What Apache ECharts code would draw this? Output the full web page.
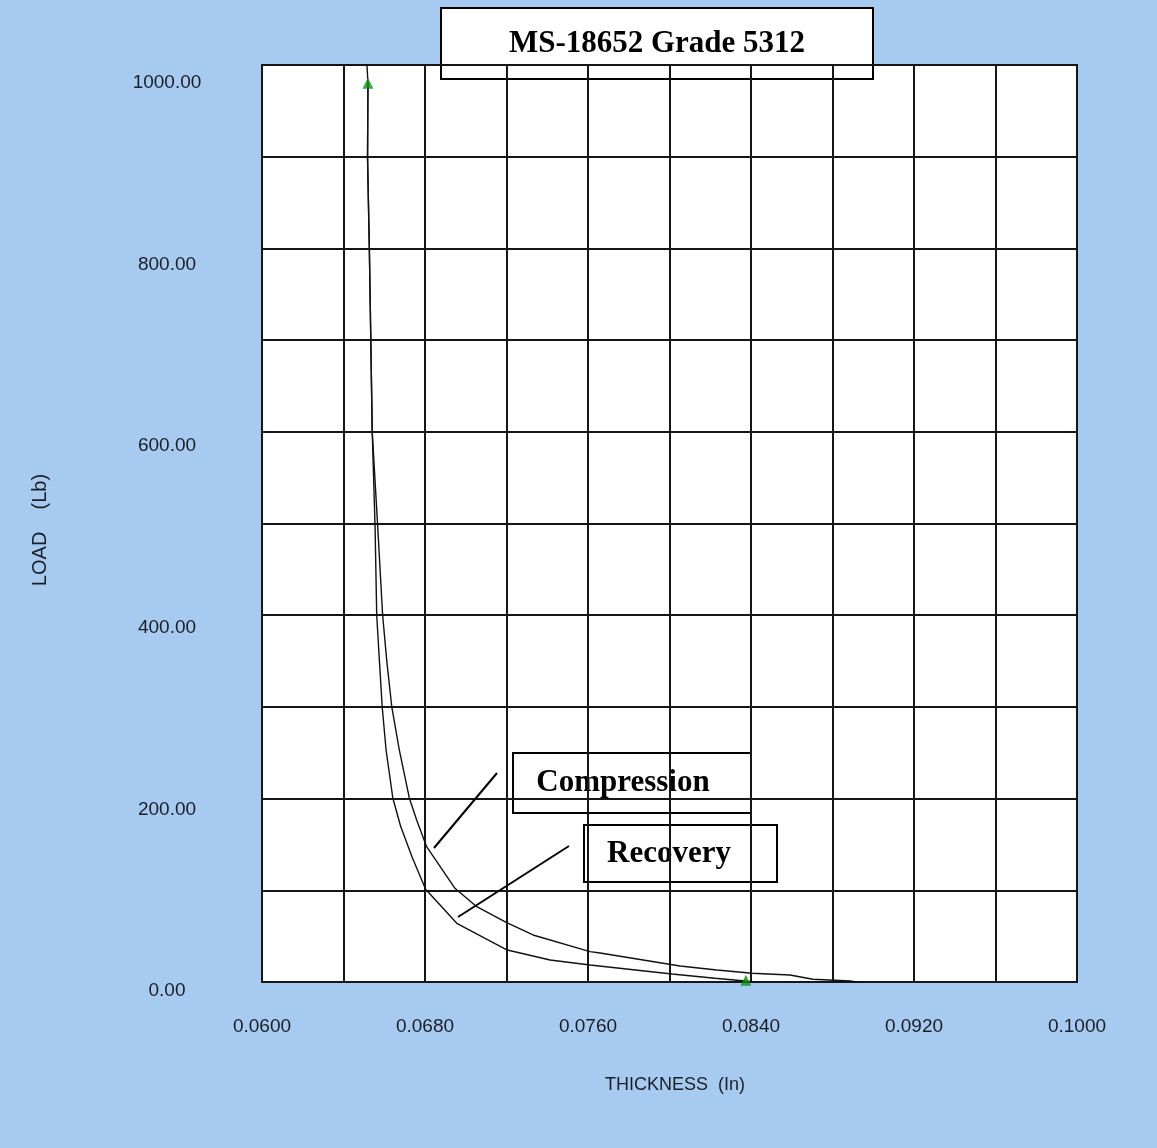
<!DOCTYPE html>
<html>
<head>
<meta charset="utf-8">
<title>MS-18652 Grade 5312</title>
<script src="https://cdn.jsdelivr.net/npm/echarts@6/dist/echarts.min.js"></script>
<style>
  html, body { margin: 0; padding: 0; background: #a6caf0; }
  #chart { width: 1157px; height: 1148px; }
</style>
</head>
<body>
<div id="chart"></div>
<script>
// Load vs. thickness test curves, [thickness (in), load (lb)]
const compression = [
  [0.08935, 9.4], [0.08886, 11.1], [0.08704, 13.0], [0.08591, 17.7],
  [0.08405, 19.6], [0.08232, 23.2], [0.08052, 27.6], [0.07659, 41.9],
  [0.07610, 43.4], [0.07330, 61.8], [0.07201, 75.3], [0.07054, 92.9],
  [0.06947, 113.2], [0.06808, 159.0], [0.06759, 188.4], [0.06723, 212.7],
  [0.06674, 265.5], [0.06637, 312.9], [0.06612, 364.6], [0.06592, 414.2],
  [0.06568, 511.0], [0.06541, 616.0], [0.06534, 717.0], [0.06527, 816.0],
  [0.06518, 918.0], [0.06520, 1000.0], [0.06514, 1025.0]
];

const recovery = [
  [0.06520, 1000.0], [0.06518, 918.0], [0.06527, 816.0], [0.06534, 717.0],
  [0.06541, 616.0], [0.06555, 511.0], [0.06563, 414.2], [0.06576, 364.6],
  [0.06590, 312.9], [0.06609, 265.5], [0.06642, 212.7], [0.06680, 181.8],
  [0.06736, 148.0], [0.06803, 112.1], [0.06956, 74.7],
  [0.07204, 45.2], [0.07414, 34.2], [0.07610, 28.7], [0.08012, 18.8],
  [0.08223, 14.1], [0.08371, 11.1], [0.08444, 8.9]
];

// Peak load and end-of-test markers
const endPoints = [[0.06520, 1000.0], [0.08375, 12.0]];

// Axis ranges and label steps
const thicknessRange = [0.06, 0.10];
const thicknessGridStep = 0.004;
const thicknessLabelStep = 0.008;
const loadLabelRange = [0, 1000];
const loadLabelStep = 200;
const loadPlotRange = [10, 1020];

const chartTitle = 'MS-18652 Grade 5312';
const xTitle = 'THICKNESS  (In)';
const yTitle = 'LOAD    (Lb)';
const compressionLabel = 'Compression';
const recoveryLabel = 'Recovery';

const chart = echarts.init(document.getElementById('chart'), null, { renderer: 'canvas' });

const ink = '#161616';
const tickFont = { fontFamily: 'Liberation Sans, Arial, sans-serif', fontSize: 19, color: '#1b1e24' };
const boxFont = 'bold 31px "Liberation Serif", "Times New Roman", serif';

function box(x, y, w, h, text, tx) {
  return {
    type: 'group', left: x, top: y, z: 100,
    children: [
      { type: 'rect', shape: { x: 0, y: 0, width: w, height: h },
        style: { fill: '#ffffff', stroke: '#000000', lineWidth: 2 } },
      { type: 'text', x: tx, y: h / 2,
        style: { text: text, font: boxFont, fill: '#000000',
                 textAlign: 'center', textVerticalAlign: 'middle' } }
    ]
  };
}

const option = {
  backgroundColor: '#a6caf0',
  animation: false,
  grid: [
    { left: 262, top: 65, width: 815, height: 917, show: true,
      backgroundColor: '#ffffff', borderColor: ink, borderWidth: 2 },
    { left: 262, top: 83, width: 815, height: 908, show: false }
  ],
  xAxis: [
    {
      type: 'value', gridIndex: 0,
      min: thicknessRange[0], max: thicknessRange[1], interval: thicknessGridStep,
      axisLine: { show: true, lineStyle: { color: ink, width: 2 } },
      axisTick: { show: false },
      splitLine: { show: true, lineStyle: { color: ink, width: 2 } },
      axisLabel: {
        margin: 35, ...tickFont,
        showMinLabel: true, showMaxLabel: true,
        formatter: function (v) {
          const k = Math.round((v - thicknessRange[0]) / thicknessGridStep);
          const every = Math.round(thicknessLabelStep / thicknessGridStep);
          return k % every === 0 ? v.toFixed(4) : '';
        }
      }
    },
    {
      type: 'value', gridIndex: 1, show: false,
      min: thicknessRange[0], max: thicknessRange[1]
    }
  ],
  yAxis: [
    { // data scale of the plot area
      type: 'value', gridIndex: 0, min: loadPlotRange[0], max: loadPlotRange[1],
      axisLine: { show: true, lineStyle: { color: ink, width: 2 } },
      axisTick: { show: false }, axisLabel: { show: false }, splitLine: { show: false }
    },
    { // ten horizontal grid bands
      type: 'value', gridIndex: 0, min: 0, max: 10, interval: 1,
      axisLine: { show: false }, axisTick: { show: false }, axisLabel: { show: false },
      splitLine: { show: true, lineStyle: { color: ink, width: 2 } }
    },
    { // load tick labels
      type: 'value', gridIndex: 1, min: loadLabelRange[0], max: loadLabelRange[1],
      interval: loadLabelStep,
      axisLine: { show: false }, axisTick: { show: false }, splitLine: { show: false },
      axisLabel: {
        margin: 95, align: 'center', ...tickFont,
        formatter: function (v) { return v.toFixed(2); }
      }
    }
  ],
  series: [
    {
      name: compressionLabel, type: 'line', xAxisIndex: 0, yAxisIndex: 0,
      data: compression, showSymbol: false, clip: true,
      lineStyle: { color: '#111111', width: 1.4 }, z: 5
    },
    {
      name: recoveryLabel, type: 'line', xAxisIndex: 0, yAxisIndex: 0,
      data: recovery, showSymbol: false, clip: true,
      lineStyle: { color: '#111111', width: 1.4 }, z: 5
    },
    {
      name: 'Markers', type: 'scatter', xAxisIndex: 0, yAxisIndex: 0,
      data: endPoints, symbol: 'triangle', symbolSize: 11, clip: true,
      itemStyle: { color: '#109010' }, z: 6
    }
  ],
  graphic: [
    box(440, 7, 432, 71, chartTitle, 216),
    box(512, 752, 238, 60, compressionLabel, 110),
    box(583, 824, 193, 57, recoveryLabel, 85),
    { type: 'line', z: 90, shape: { x1: 497, y1: 773, x2: 434, y2: 848 },
      style: { stroke: '#000000', lineWidth: 2 } },
    { type: 'line', z: 90, shape: { x1: 569, y1: 846, x2: 458, y2: 917 },
      style: { stroke: '#000000', lineWidth: 2 } },
    { type: 'text', z: 50, x: 675, y: 1085,
      style: { text: xTitle, font: '18px "Liberation Sans", Arial, sans-serif',
               fill: '#1b1e24', textAlign: 'center', textVerticalAlign: 'middle' } },
    { type: 'text', z: 50, x: 40, y: 530, rotation: Math.PI / 2,
      style: { text: yTitle, font: '20px "Liberation Sans", Arial, sans-serif',
               fill: '#1b1e24', textAlign: 'center', textVerticalAlign: 'middle' } }
  ]
};

chart.setOption(option);
</script>
</body>
</html>
